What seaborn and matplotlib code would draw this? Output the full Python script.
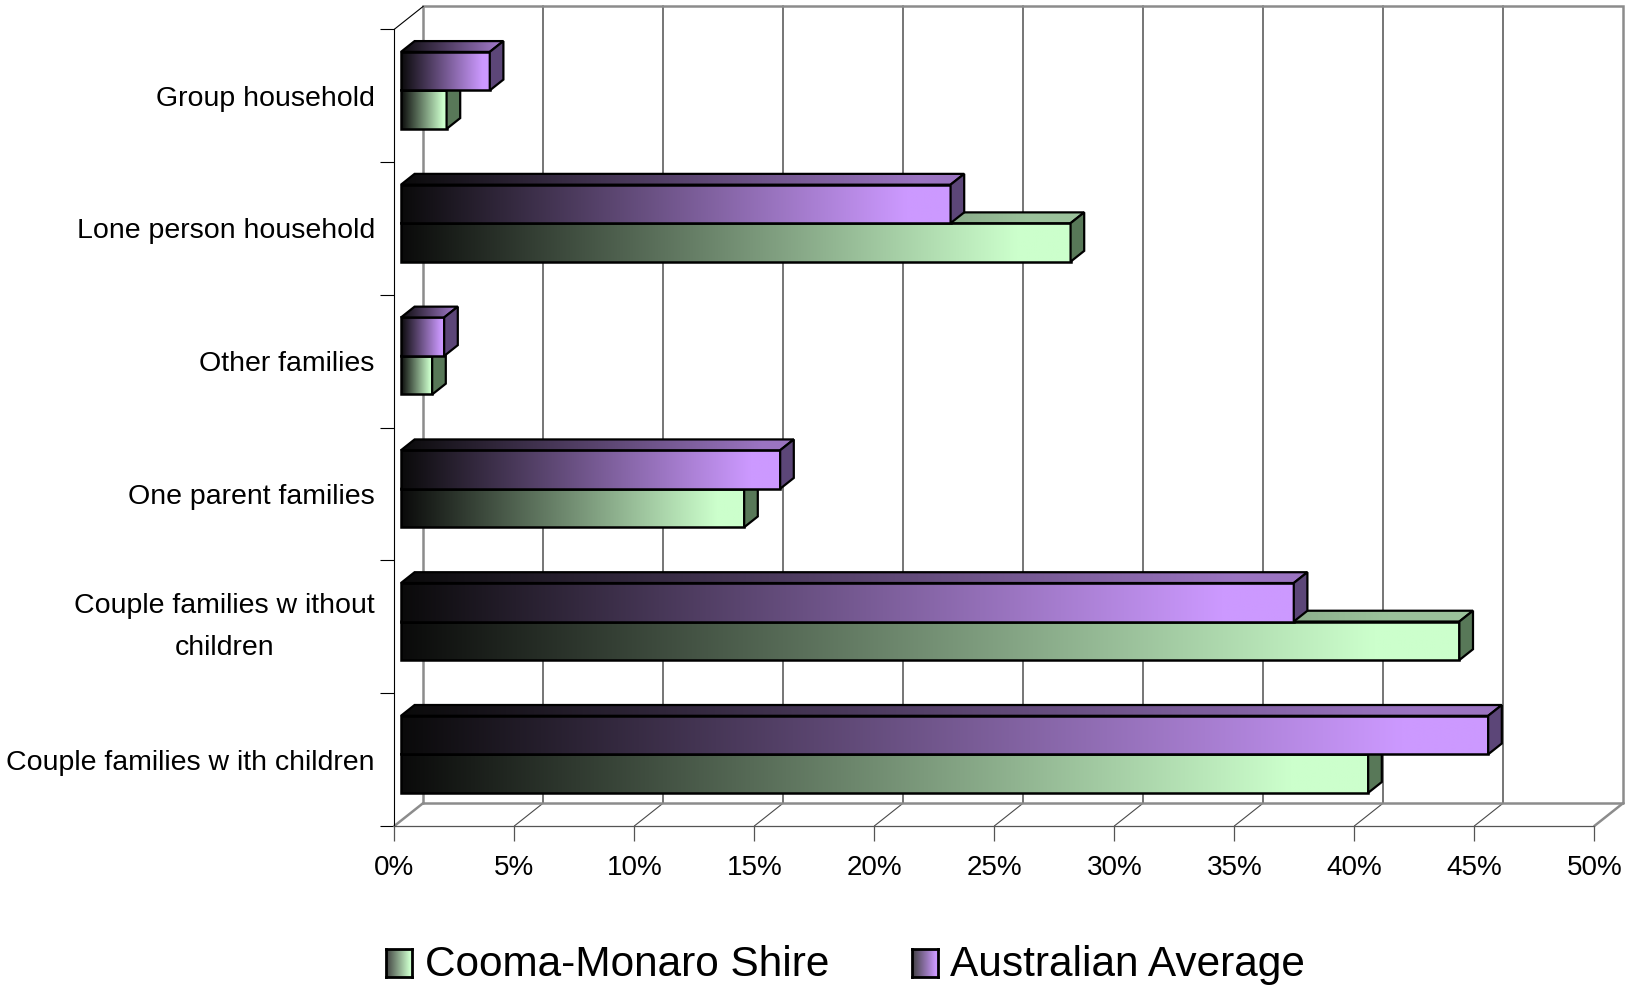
import numpy as np
import pandas as pd
import matplotlib
matplotlib.use("Agg")
import matplotlib.pyplot as plt
import seaborn as sns
from matplotlib.patches import Polygon
from matplotlib.transforms import Affine2D
from matplotlib.colors import to_rgb
from matplotlib.ticker import FixedLocator

# ---- data -----------------------------------------------------------------
categories = [
    "Group household",
    "Lone person household",
    "Other families",
    "One parent families",
    "Couple families w ithout\nchildren",
    "Couple families w ith children",
]
cooma_monaro = [1.9, 27.9, 1.3, 14.3, 44.1, 40.3]
australian_avg = [3.7, 22.9, 1.8, 15.8, 37.2, 45.3]
series_names = ["Cooma-Monaro Shire", "Australian Average"]
x_ticks = [0, 5, 10, 15, 20, 25, 30, 35, 40, 45, 50]
x_tick_labels = [f"{v}%" for v in x_ticks]

light_colors = {"Cooma-Monaro Shire": "#CCFFCC", "Australian Average": "#CC99FF"}
side_colors = {"Cooma-Monaro Shire": "#587858", "Australian Average": "#5C4678"}

# ---- figure ---------------------------------------------------------------
W, H = 1634, 985
sns.set_theme(style="white")
plt.rcParams["font.family"] = ["Liberation Sans", "DejaVu Sans"]

fig = plt.figure(figsize=(W / 100, H / 100), dpi=100)
fig.patch.set_facecolor("white")

# front plane of the 3-D box, in pixels
left_px, right_px = 394.3, 1594.3
top_px, bottom_px = 29.3, 826.0
ax = fig.add_axes([left_px / W, 1 - bottom_px / H,
                   (right_px - left_px) / W, (bottom_px - top_px) / H])
ax.set_facecolor("none")

df = pd.DataFrame({
    "category": categories * 2,
    "share": cooma_monaro + australian_avg,
    "series": [series_names[0]] * len(categories) + [series_names[1]] * len(categories),
})

# purple bar sits above the green one inside each category
hue_draw = ["Australian Average", "Cooma-Monaro Shire"]
sns.barplot(data=df, x="share", y="category", hue="series", order=categories,
            hue_order=hue_draw, orient="h", width=0.58, palette=light_colors,
            saturation=1, legend=False, ax=ax, edgecolor="black", linewidth=1.8)
ax.set_autoscale_on(False)
ax.set_xlim(0, 50)
ax.set_ylim(5.5, -0.5)

# depth vector from the front plane to the back wall, in data units
DX = 29.0 / ((right_px - left_px) / 50)
DY = -23.0 / ((bottom_px - top_px) / 6)
BAR_FRONT = 0.23
BAR_DEPTH = 0.47
ox, oy = BAR_FRONT * DX, BAR_FRONT * DY
bx, by = BAR_DEPTH * DX, BAR_DEPTH * DY


def ramp(hex_color, scale=1.0, n=256, start=0.04):
    lo = np.array([start, start, start])
    hi = np.array(to_rgb(hex_color)) * scale
    t = np.clip(np.linspace(0, 1, n) / 0.92, 0, 1)
    return np.clip((lo + (hi - lo) * t[:, None])[None, :, :], 0, 1)


bars = {}
for level, cont in zip(hue_draw, ax.containers):
    for i, rect in enumerate(cont):
        bars[(level, i)] = rect

shift = Affine2D().translate(ox, oy) + ax.transData
for i in range(len(categories)):
    for k, level in enumerate(["Cooma-Monaro Shire", "Australian Average"]):
        rect = bars[(level, i)]
        z = 3 + k
        x0, y0 = rect.get_x(), rect.get_y()
        w, h = rect.get_width(), rect.get_height()
        if w <= 0:
            continue
        # front face: horizontal gradient under the outlined bar
        ax.imshow(ramp(light_colors[level]), extent=(x0 + ox, x0 + w + ox, y0 + h + oy, y0 + oy),
                  aspect="auto", interpolation="bilinear", zorder=z, clip_on=False)
        rect.set_facecolor("none")
        rect.set_transform(shift)
        rect.set_zorder(z + 0.1)
        rect.set_clip_on(False)
        rect.set_joinstyle("miter")

        # top face
        top = [(x0 + ox, y0 + oy), (x0 + w + ox, y0 + oy),
               (x0 + w + ox + bx, y0 + oy + by), (x0 + ox + bx, y0 + oy + by)]
        top_clip = Polygon(top, closed=True, transform=ax.transData, facecolor="none",
                           edgecolor="none")
        ax.add_patch(top_clip)
        im = ax.imshow(ramp(light_colors[level], 0.76),
                       extent=(x0 + ox, x0 + w + ox + bx, y0 + oy, y0 + oy + by),
                       aspect="auto", interpolation="bilinear", zorder=z + 0.2)
        im.set_clip_path(top_clip)
        ax.add_patch(Polygon(top, closed=True, fill=False, edgecolor="black", lw=1.6,
                             joinstyle="miter", zorder=z + 0.3, clip_on=False))

        # right-hand side face
        side = [(x0 + w + ox, y0 + oy), (x0 + w + ox, y0 + h + oy),
                (x0 + w + ox + bx, y0 + h + oy + by), (x0 + w + ox + bx, y0 + oy + by)]
        ax.add_patch(Polygon(side, closed=True, facecolor=side_colors[level],
                             edgecolor="black", lw=1.6, joinstyle="miter",
                             zorder=z + 0.4, clip_on=False))

# ---- walls, floor and gridlines -------------------------------------------
wall_col, wall_lw = "#8C8C8C", 1.8
y_top, y_bot = -0.5, 5.5
x_max = x_ticks[-1]
ax.plot([DX, DX, x_max + DX, x_max + DX], [y_bot + DY, y_top + DY, y_top + DY, y_bot + DY],
        color=wall_col, lw=wall_lw, clip_on=False, zorder=1, solid_joinstyle="miter")
ax.plot([DX, x_max + DX], [y_bot + DY, y_bot + DY], color=wall_col, lw=wall_lw,
        clip_on=False, zorder=1)
ax.plot([0, DX], [y_bot, y_bot + DY], color=wall_col, lw=wall_lw, clip_on=False, zorder=1)
ax.plot([x_max, x_max + DX], [y_bot, y_bot + DY], color=wall_col, lw=wall_lw,
        clip_on=False, zorder=1)
ax.plot([0, DX], [y_top, y_top + DY], color="black", lw=0.8, clip_on=False, zorder=1)
for t in x_ticks[1:-1]:
    ax.plot([t + DX, t + DX], [y_bot + DY, y_top + DY], color="#6A6A6A", lw=1.3,
            clip_on=False, zorder=0.8)
    ax.plot([t, t + DX], [y_bot, y_bot + DY], color="#4A4A4A", lw=0.8,
            clip_on=False, zorder=0.8)

# ---- axes, ticks, labels --------------------------------------------------
for s in ["top", "right"]:
    ax.spines[s].set_visible(False)
ax.spines["left"].set_color("black")
ax.spines["left"].set_linewidth(0.8)
ax.spines["bottom"].set_color("#555555")
ax.spines["bottom"].set_linewidth(0.9)

ax.set_xlabel("")
ax.set_ylabel("")
ax.set_xticks(x_ticks, x_tick_labels)
ax.tick_params(axis="x", which="major", length=11, width=0.9, color="#555555",
               pad=10, labelsize=20, labelcolor="black", bottom=True, direction="out")
ax.set_yticks(range(len(categories)), categories)
ax.tick_params(axis="y", which="major", length=0, pad=14, labelsize=20.5,
               labelcolor="black")
ax.yaxis.set_minor_locator(FixedLocator(np.arange(-0.5, len(categories), 1.0)))
ax.tick_params(axis="y", which="minor", length=10, width=0.8, color="black",
               left=True, direction="out")
for lbl in ax.get_yticklabels():
    lbl.set_multialignment("center")
    if "\n" in lbl.get_text():
        lbl.set_linespacing(1.8)
        lbl.set_verticalalignment("center")

# ---- legend ---------------------------------------------------------------
legend_items = [(series_names[0], 386, 425), (series_names[1], 912, 950)]
for name, sq_x, tx in legend_items:
    sq = fig.add_axes([sq_x / W, 1 - 977 / H, 26 / W, 28 / H])
    sq.imshow(ramp(light_colors[name], start=0.25), aspect="auto", interpolation="bilinear")
    sq.set_xticks([])
    sq.set_yticks([])
    for s in sq.spines.values():
        s.set_visible(True)
        s.set_color("black")
        s.set_linewidth(2.0)
    fig.text(tx / W, 1 - 976 / H, name, fontsize=30.5, ha="left", va="baseline",
             color="black")

fig.savefig("out.png", dpi=100, facecolor="white")
